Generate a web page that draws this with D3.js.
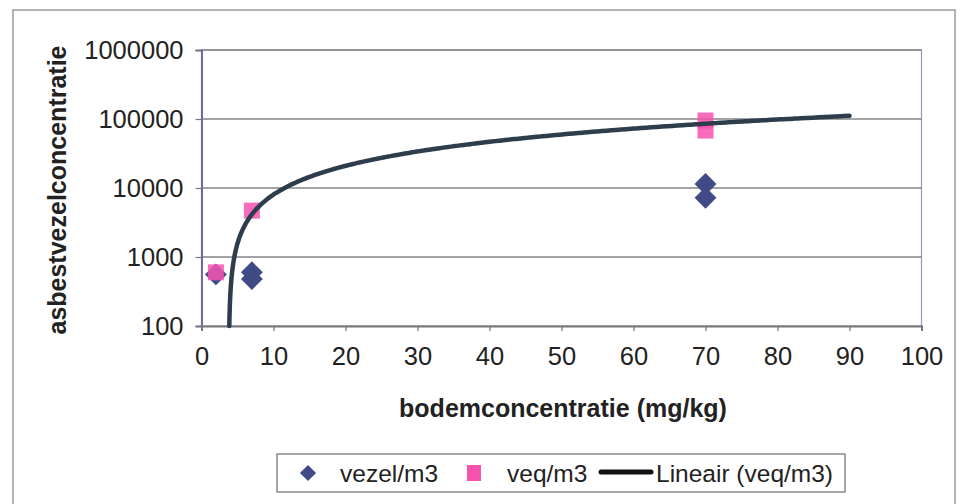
<!DOCTYPE html>
<html><head><meta charset="utf-8">
<script src="https://cdn.jsdelivr.net/npm/d3@7"></script>
<style>body{margin:0;background:#fff}svg{display:block;font-family:"Liberation Sans",Arial,sans-serif}</style>
</head><body>
<svg id="c" width="961" height="504"></svg>
<script>
// data
const vezelX = [2, 7, 7, 70, 70];
const vezelY = [560, 600, 480, 11400, 7200];
const veqX = [2, 7, 70, 70];
const veqY = [600, 4700, 95000, 68000];
const trendSlope = 1290;      // Lineair (veq/m3): y = a*x + b
const trendIntercept = -4880;
const trendXEnd = 90;
const xTicks = [0,10,20,30,40,50,60,70,80,90,100];
const yTicks = [100,1000,10000,100000,1000000];
const legendLabels = ["vezel/m3","veq/m3","Lineair (veq/m3)"];

const svg = d3.select("#c");
const L=201.5,R=921.5,T=50,B=326;
const x = d3.scaleLinear().domain([0,100]).range([L,R]);
const y = d3.scaleLog().domain([100,1000000]).range([B,T]);

// outer chart border
svg.append("rect").attr("x",13).attr("y",10).attr("width",942).attr("height",510)
  .attr("fill","#fff").attr("stroke","#9a9a9a").attr("stroke-width",1.5);

// plot area
svg.append("rect").attr("x",L).attr("y",T).attr("width",R-L).attr("height",B-T)
  .attr("fill","#fff").attr("stroke","#8c9bbf").attr("stroke-width",1.2);

// gridlines
svg.append("g").selectAll("line").data(yTicks.slice(1)).join("line")
  .attr("x1",L).attr("x2",R).attr("y1",d=>y(d)).attr("y2",d=>y(d))
  .attr("stroke","#858585").attr("stroke-width",1.6);

// axes
const yAxis = svg.append("g").attr("transform",`translate(${L},0)`)
  .call(d3.axisLeft(y).tickValues(yTicks).tickFormat(d3.format("d")).tickSize(6).tickPadding(12));
const xAxis = svg.append("g").attr("transform",`translate(0,${B})`)
  .call(d3.axisBottom(x).tickValues(xTicks).tickSize(5).tickPadding(16));
[yAxis,xAxis].forEach(g=>{
  g.selectAll("text").attr("font-size",25.5).attr("fill","#222").attr("font-family","Liberation Sans, Arial, sans-serif");
  g.selectAll("line").attr("stroke","#777").attr("stroke-width",1.2);
});
yAxis.select(".domain").attr("stroke","#6a6aa8").attr("stroke-width",2);
xAxis.select(".domain").attr("stroke","#777").attr("stroke-width",2);

// titles
svg.append("text").attr("transform","translate(66,190) rotate(-90)").attr("text-anchor","middle")
  .attr("font-size",25).attr("font-weight","bold").attr("fill","#222").text("asbestvezelconcentratie");
svg.append("text").attr("x",563).attr("y",417).attr("text-anchor","middle")
  .attr("font-size",25).attr("font-weight","bold").attr("fill","#222").text("bodemconcentratie (mg/kg)");

const blue="#3f4a86", pink="#f653b0", lineC="#2e3d4c";
const diamond = d3.symbol().type(d3.symbolSquare).size(240);

// vezel diamonds
svg.append("g").selectAll("path").data(vezelX.map((d,i)=>[d,vezelY[i]])).join("path")
  .attr("d",diamond).attr("transform",d=>`translate(${x(d[0])},${y(d[1])}) rotate(45)`)
  .attr("fill",blue);
// veq squares
svg.append("g").selectAll("rect").data(veqX.map((d,i)=>[d,veqY[i]])).join("rect")
  .attr("x",d=>x(d[0])-8).attr("y",d=>y(d[1])-8).attr("width",16).attr("height",16)
  .attr("fill",pink).attr("opacity",0.85);

// trend line
const x0 = (100 - trendIntercept)/trendSlope;
const tx = d3.range(0,201).map(i=>x0+(trendXEnd-x0)*Math.pow(i/200,2));
const line = d3.line().x(d=>x(d)).y(d=>y(Math.max(100,trendSlope*d+trendIntercept))).curve(d3.curveMonotoneX);
svg.append("path").datum(tx).attr("d",line).attr("fill","none")
  .attr("stroke",lineC).attr("stroke-width",4.5).attr("stroke-linecap","round");

// legend
const lg = svg.append("g");
lg.append("rect").attr("x",277).attr("y",454).attr("width",568).attr("height",38)
  .attr("fill","#fff").attr("stroke","#8a8a8a").attr("stroke-width",1.5);
lg.append("path").attr("d",d3.symbol().type(d3.symbolSquare).size(130)).attr("transform","translate(308,473) rotate(45)").attr("fill",blue);
lg.append("rect").attr("x",467).attr("y",465).attr("width",14).attr("height",16).attr("fill",pink);
lg.append("line").attr("x1",601).attr("x2",651).attr("y1",472).attr("y2",472).attr("stroke","#111").attr("stroke-width",5).attr("stroke-linecap","round");
const lx=[340,507,656];
lg.selectAll("text.l").data(legendLabels).join("text").attr("class","l")
  .attr("x",(d,i)=>lx[i]).attr("y",482).attr("font-size",24.5).attr("fill","#222").text(d=>d);
</script>
</body></html>
